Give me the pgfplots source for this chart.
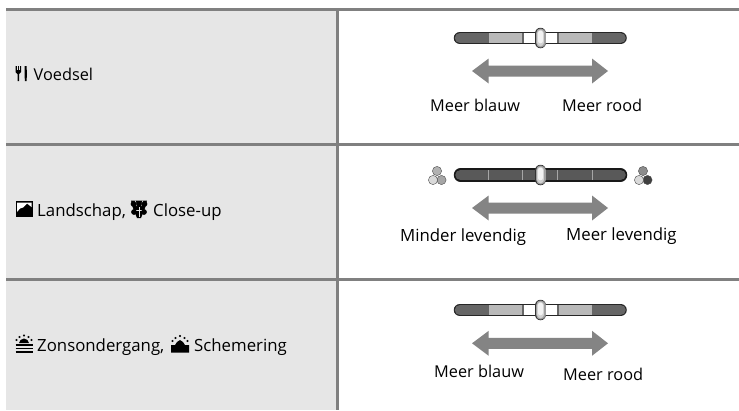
\documentclass[border=0pt]{standalone}
\usepackage{fontspec}
\setmainfont{Open Sans}
\usepackage{pgfplots}
\pgfplotsset{compat=1.18}
\definecolor{cellgrey}{HTML}{E6E6E6}
\definecolor{rulegrey}{HTML}{808080}
\definecolor{arrowgrey}{HTML}{848484}
\newcommand{\poly}[2]{\addplot[fill=#1,draw=none,forget plot] coordinates {#2} --cycle;}
\newcommand{\stroke}[3]{\addplot[color=#1,line width=#2,line cap=round,forget plot] coordinates {#3};}
\newcommand{\flatstroke}[3]{\addplot[color=#1,line width=#2,line cap=butt,forget plot] coordinates {#3};}
\newcommand{\handle}[1]{%
  \stroke{black!80}{11.5pt}{(540.5,#1-4.5)(540.5,#1+4.5)}
  \stroke{gray!75}{10pt}{(540.5,#1-4.5)(540.5,#1+4.5)}
  \stroke{gray!35}{7.5pt}{(540.5,#1-4.5)(540.5,#1+4.5)}
  \stroke{white!90!gray}{4.5pt}{(540.5,#1-5)(540.5,#1+3)}
}
\newcommand{\wbslider}[1]{%
  \stroke{black!85}{12.5pt}{(460,#1)(620.5,#1)}
  \stroke{black!60}{10.5pt}{(460,#1)(620.5,#1)}
  \poly{gray!55}{(488.5,#1-5.2)(522,#1-5.2)(522,#1+5.2)(488.5,#1+5.2)}
  \poly{gray!55}{(558.5,#1-5.2)(592,#1-5.2)(592,#1+5.2)(558.5,#1+5.2)}
  \poly{white}{(524,#1-5.2)(557,#1-5.2)(557,#1+5.2)(524,#1+5.2)}
  \handle{#1}
}
\newcommand{\bigarrow}[1]{%
  \poly{arrowgrey}{(472,#1)(488.7,#1-12.5)(488.7,#1-5.5)(592,#1-5.5)(592,#1-12.5)(608,#1)(592,#1+12.5)(592,#1+5.5)(488.7,#1+5.5)(488.7,#1+12.5)}
}
\tikzset{lab/.style={anchor=base west,inner sep=0pt,font=\fontsize{16.3pt}{18pt}\selectfont},
         labb/.style={anchor=base west,inner sep=0pt,font=\fontsize{16.8pt}{18pt}\selectfont}}
\begin{document}
\begin{tikzpicture}
\begin{axis}[
  hide axis, scale only axis, width=739pt, height=410pt,
  xmin=0, xmax=739, ymin=0, ymax=410, y dir=reverse, clip=true,
  no markers,
]
\poly{white}{(0,0)(739,0)(739,410)(0,410)}
% cells
\poly{cellgrey}{(6,9)(337,9)(337,410)(6,410)}
% rules
\flatstroke{rulegrey}{3pt}{(6,9.5)(739,9.5)}
\flatstroke{rulegrey}{3pt}{(6,144.5)(739,144.5)}
\flatstroke{rulegrey}{3pt}{(6,279.5)(739,279.5)}
\flatstroke{rulegrey}{3pt}{(337.5,8)(337.5,410)}
% row 1
\wbslider{38}
\bigarrow{71}
% row 2
\stroke{black!90}{13.5pt}{(460.5,175)(620.5,175)}
\stroke{black!65}{10.5pt}{(460.5,175)(620.5,175)}
\flatstroke{gray!70}{0.8pt}{(488.5,170)(488.5,180)}
\flatstroke{gray!70}{0.8pt}{(522,170)(522,180)}
\flatstroke{gray!70}{0.8pt}{(557,170)(557,180)}
\flatstroke{gray!70}{0.8pt}{(592,170)(592,180)}
\handle{175}
\bigarrow{208}
% colour icons
\addplot[only marks,mark=*,mark size=4.6pt,mark options={draw=black!70,fill=gray!60},forget plot] coordinates {(437,171)};
\addplot[only marks,mark=*,mark size=4.6pt,mark options={draw=black!70,fill=gray!70},forget plot] coordinates {(441.5,180)};
\addplot[only marks,mark=*,mark size=4.6pt,mark options={draw=black!70,fill=gray!30},forget plot] coordinates {(433,180)};
\addplot[only marks,mark=*,mark size=4.6pt,mark options={draw=black!70,fill=gray!90},forget plot] coordinates {(643,171)};
\addplot[only marks,mark=*,mark size=4.6pt,mark options={draw=black!70,fill=black!75},forget plot] coordinates {(647.5,180)};
\addplot[only marks,mark=*,mark size=4.6pt,mark options={draw=black!70,fill=gray!30},forget plot] coordinates {(639,180)};
% row 3
\wbslider{310}
\bigarrow{343.3}
% right texts
\node[lab] at (axis cs:430,111.5) {Meer blauw};
\node[lab] at (axis cs:562,111.5) {Meer rood};
\node[labb] at (axis cs:400,241.5) {Minder levendig};
\node[labb] at (axis cs:566,240) {Meer levendig};
\node[lab] at (axis cs:434,377) {Meer blauw};
\node[lab] at (axis cs:563,380) {Meer rood};
% left texts
\node[lab] at (axis cs:33.5,80.5) {Voedsel};
\node[labb] at (axis cs:37,216) {Landschap,};
\node[labb] at (axis cs:153,216) {Close-up};
\node[labb] at (axis cs:37,351.5) {Zonsondergang,};
\node[labb] at (axis cs:194,351.5) {Schemering};
% fork and knife
\poly{black}{(15.5,66)(21,66)(21,72)(19,74)(19,81)(17.5,81)(17.5,74)(15.5,72)}
\flatstroke{cellgrey}{0.7pt}{(17.4,66)(17.4,70)}
\flatstroke{cellgrey}{0.7pt}{(19.2,66)(19.2,70)}
\poly{black}{(24.5,66)(26.5,66)(27,74)(26.5,81)(24.8,81)}
% landscape
\poly{black}{(15.5,201)(33,201)(33,217)(15.5,217)}
\poly{white}{(17,202.5)(31.5,202.5)(31.5,207)(27,203.5)(23,207.5)(20,208.5)(17,212)}
% close-up flower
\addplot[only marks,mark=*,mark size=2.6pt,black,forget plot] coordinates {(133.5,204)(139,204)(144.5,204)(134,212)(144,212)};
\poly{black}{(131,200.5)(147,200.5)(145,208)(141,218)(137,218)(133,208)}
\flatstroke{cellgrey}{0.8pt}{(135,200.5)(137,206)}
\flatstroke{cellgrey}{0.8pt}{(143,200.5)(141,206)}
\flatstroke{cellgrey}{0.8pt}{(139,207)(139,217)}
\flatstroke{cellgrey}{0.8pt}{(132,210)(146,210)}
% sunset
\poly{black}{(19,343)(20.5,340)(24,338.5)(27.5,340)(29,343)}
\flatstroke{black}{1.6pt}{(15.5,345)(32.5,345)}
\flatstroke{black}{1.6pt}{(15.5,348.5)(32.5,348.5)}
\flatstroke{black}{1.6pt}{(15.5,352)(32.5,352)}
\addplot[only marks,mark=*,mark size=0.9pt,black,forget plot] coordinates {(16.5,340)(19.5,337)(24,335.5)(28.5,337)(31.5,340)};
% dusk
\poly{black}{(171,352.5)(171,345)(175,345)(177,342)(180,340)(183,342)(185,345)(189,345)(189,352.5)};
\addplot[only marks,mark=*,mark size=0.9pt,black,forget plot] coordinates {(172.5,341)(175.5,338)(180,336)(184.5,338)(187.5,341)};
\end{axis}
\end{tikzpicture}
\end{document}
